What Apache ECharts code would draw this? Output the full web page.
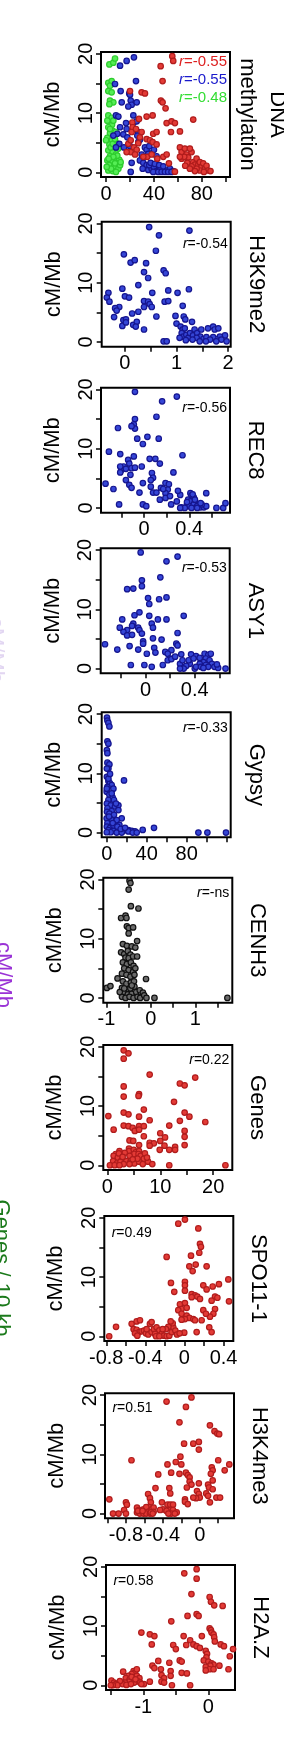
<!DOCTYPE html>
<html><head><meta charset="utf-8">
<script src="https://cdn.jsdelivr.net/npm/echarts@6/dist/echarts.min.js"></script>
<style>html,body{margin:0;padding:0;background:#fff}#c{width:284px;height:1738px}</style>
</head><body><div id="c"></div>
<script>
// ---------------- DATA ----------------
const dnaRed = [[55.3,19.6],[56.1,18.8],[45.6,17.9],[47.2,15.4],[20.0,13.7],[29.7,13.5],[32.5,13.3],[45.8,12.1],[47.2,11.8],[49.7,10.8],[33.9,9.4],[27.5,9.0],[21.9,8.4],[22.2,7.6],[38.9,9.6],[50.6,8.3],[54.7,8.6],[57.5,8.3],[54.2,6.8],[61.7,6.9],[72.8,8.9],[18.6,4.8],[20.6,5.4],[23.3,4.2],[25.6,3.8],[20.6,3.4],[17.2,3.4],[24.2,3.0],[21.4,6.8],[25.0,7.3],[33.9,5.6],[36.7,5.4],[39.4,6.5],[42.2,6.8],[38.9,5.1],[42.2,4.7],[29.7,6.8],[28.3,5.9],[34.4,2.6],[38.1,3.0],[42.8,2.3],[47.8,2.6],[50.6,3.0],[57.5,0.1],[52.5,1.5],[61.7,4.2],[63.1,3.4],[65.8,4.0],[67.2,3.0],[68.6,2.5],[71.4,3.4],[72.8,1.7],[74.2,1.3],[75.6,2.3],[76.9,1.2],[78.3,1.7],[79.7,0.9],[81.1,1.5],[82.5,0.6],[83.9,1.1],[85.3,0.3],[87.2,0.2],[78.3,0.3],[75.6,0.6],[71.4,1.0],[67.8,1.6],[63.1,2.3],[65.3,2.6],[61.7,2.6],[70.0,4.0],[81.7,0.05],[74.2,0.2],[70.0,0.6],[66.1,1.1],[31.1,2.6],[26.9,4.9]];
const dnaBlue = [[11.7,18.0],[17.2,18.8],[23.3,19.4],[25.0,15.4],[7.5,14.9],[12.2,13.7],[19.4,13.3],[20.0,13.1],[13.1,11.8],[20.6,12.1],[21.4,11.4],[25.6,11.8],[18.6,11.1],[8.3,9.6],[10.3,9.4],[16.7,8.3],[22.8,8.3],[25.6,8.6],[11.7,7.6],[17.2,7.3],[9.4,6.5],[6.1,6.2],[14.4,6.4],[17.8,5.9],[11.1,4.8],[8.3,4.2],[15.0,4.2],[20.0,4.4],[26.9,6.8],[26.1,6.2],[32.5,4.2],[33.9,3.8],[36.1,4.4],[38.1,3.2],[40.0,3.8],[42.2,2.7],[21.4,1.6],[20.6,0.05],[28.3,2.0],[31.1,1.6],[33.9,1.2],[30.6,0.6],[35.3,0.4],[38.1,0.6],[40.0,0.9],[42.2,0.2],[45.0,0.4],[47.8,0.2],[50.6,0.3],[53.3,0.6],[56.1,0.2],[39.4,0.05],[43.6,0.05],[46.4,0.05],[49.2,0.05],[51.9,0.05],[54.7,0.05],[36.1,1.2],[37.2,1.6],[40.8,1.4],[44.4,1.2],[47.8,1.0],[31.7,2.6],[29.7,3.0],[26.9,5.1],[28.3,5.5],[22.8,9.6],[35.3,3.1]];
const dnaGreen = [[2.8,18.2],[6.1,18.5],[7.5,19.2],[1.9,15.1],[4.7,15.4],[3.3,14.6],[1.9,13.7],[4.7,13.5],[3.3,12.1],[6.1,11.8],[2.8,11.5],[1.9,9.6],[4.7,9.2],[3.3,8.4],[5.0,8.0],[1.9,7.6],[5.6,7.0],[3.3,6.6],[7.5,6.2],[1.1,5.8],[5.0,5.4],[8.9,4.9],[2.8,4.7],[6.7,4.2],[10.3,4.0],[1.9,3.7],[5.6,3.4],[8.3,3.0],[3.3,2.7],[7.5,2.5],[11.1,2.1],[1.1,2.0],[4.7,1.7],[8.9,1.5],[2.8,1.2],[6.7,0.9],[10.3,0.6],[1.9,0.3],[5.6,0.2],[8.3,0.05],[4.2,0.6],[0.6,0.9],[7.5,1.5],[11.7,1.2],[3.9,4.2],[0.0,5.4],[8.1,6.8],[1.1,8.7],[9.4,2.8],[6.1,2.6],[2.2,2.3],[12.2,1.7],[5.6,4.8],[7.5,5.6],[3.3,7.3],[6.1,8.7]];
const h3k9me2 = [[0.47,19.4],[1.25,18.8],[0.66,18.0],[0.60,15.4],[-0.02,14.8],[0.11,13.4],[0.19,13.8],[0.41,13.3],[0.37,11.8],[0.45,10.8],[0.75,12.1],[0.79,11.6],[0.26,9.6],[-0.05,9.0],[1.24,8.9],[0.84,8.7],[1.02,8.3],[0.53,8.3],[-0.32,8.3],[-0.35,7.5],[-0.30,6.8],[0.00,7.7],[0.08,7.5],[0.37,6.9],[0.45,6.8],[0.48,6.4],[0.37,5.9],[0.52,5.9],[0.77,6.8],[0.84,6.9],[1.12,6.1],[-0.11,5.9],[-0.19,5.7],[-0.16,5.3],[0.14,4.8],[0.26,5.1],[-0.21,4.2],[0.61,4.3],[0.98,4.4],[1.14,4.3],[1.17,3.8],[-0.03,3.7],[0.02,3.8],[-0.05,2.7],[0.02,3.3],[0.16,2.9],[0.23,3.4],[0.21,2.6],[0.37,2.1],[1.30,3.4],[1.00,3.1],[1.08,2.6],[1.12,2.1],[1.16,2.3],[1.10,1.5],[1.13,0.9],[1.19,1.2],[1.23,0.7],[1.26,1.5],[1.32,1.1],[1.35,2.1],[1.40,1.5],[1.46,0.9],[1.52,0.5],[1.58,0.8],[1.48,2.1],[1.61,2.3],[1.71,2.6],[1.74,2.1],[1.81,2.3],[1.94,1.1],[1.84,0.9],[1.76,0.5],[1.71,0.8],[1.65,0.4],[1.87,0.4],[1.77,0.1],[1.97,0.1],[1.39,0.7],[1.31,0.4],[1.06,0.7],[1.18,0.3],[1.45,0.1],[1.57,0.1],[0.75,0.1],[0.81,0.1]];
const rec8 = [[-0.08,19.6],[0.29,18.8],[0.16,18.0],[0.11,15.4],[-0.08,15.0],[-0.09,14.1],[-0.08,13.4],[-0.23,13.5],[-0.11,13.8],[-0.06,11.7],[0.03,12.0],[0.13,11.7],[-0.01,10.8],[-0.31,9.5],[0.34,8.9],[-0.21,9.1],[-0.09,8.7],[0.05,8.3],[0.10,8.3],[0.14,7.5],[-0.14,8.1],[-0.13,7.5],[-0.18,7.0],[-0.20,6.4],[-0.21,6.0],[-0.16,6.6],[-0.11,6.7],[-0.08,6.8],[-0.02,7.0],[-0.21,7.0],[0.26,6.0],[0.07,5.9],[0.08,5.1],[0.06,4.7],[-0.12,5.6],[-0.16,4.7],[-0.13,3.9],[-0.11,3.4],[-0.34,4.1],[-0.27,3.2],[-0.01,4.2],[-0.04,2.6],[0.06,3.6],[0.08,2.6],[0.11,2.6],[0.15,3.4],[0.19,4.2],[0.22,4.0],[0.21,3.1],[0.19,2.5],[0.17,3.2],[0.14,1.4],[0.19,1.7],[0.23,2.0],[0.24,0.6],[0.29,1.1],[0.32,2.2],[0.30,2.9],[-0.22,0.6],[-0.01,0.6],[0.02,0.3],[0.41,2.5],[0.42,2.1],[0.44,1.8],[0.39,1.4],[0.41,1.1],[0.45,1.0],[0.38,0.6],[0.40,0.3],[0.44,0.6],[0.47,0.3],[0.50,0.1],[0.33,0.1],[0.36,0.0],[0.42,0.0],[0.47,0.0],[0.53,0.1],[0.55,0.3],[0.51,0.6],[0.32,0.0],[0.45,1.4],[0.43,2.3],[0.50,0.8],[0.38,1.0],[0.64,0.0],[0.70,0.0],[0.72,0.8],[0.55,2.5]];
const asy1 = [[-0.04,19.6],[0.26,18.9],[0.17,18.1],[0.12,15.4],[-0.03,14.9],[-0.03,13.9],[-0.15,13.4],[-0.10,13.5],[0.02,11.9],[0.03,10.9],[0.11,11.7],[0.17,12.0],[0.31,8.9],[0.03,8.9],[0.10,8.3],[0.17,8.3],[-0.19,8.3],[-0.09,9.0],[-0.05,9.5],[-0.10,7.6],[-0.11,7.2],[-0.15,6.5],[-0.18,6.2],[-0.15,5.6],[-0.11,5.7],[-0.21,6.9],[-0.06,6.9],[-0.05,6.5],[-0.03,5.9],[0.05,7.6],[0.06,6.9],[0.06,5.1],[0.13,4.9],[-0.02,4.6],[-0.02,4.2],[-0.06,3.2],[-0.13,3.8],[-0.23,3.2],[-0.33,4.1],[0.07,3.5],[0.08,2.7],[0.01,2.5],[0.26,6.0],[0.25,4.2],[0.26,3.9],[0.21,3.1],[0.16,2.8],[0.18,2.5],[0.20,1.7],[0.18,1.4],[0.21,1.6],[0.24,2.0],[0.29,2.4],[-0.12,0.6],[-0.01,0.6],[0.05,0.3],[0.14,0.6],[0.37,2.4],[0.41,2.1],[0.48,2.5],[0.51,2.3],[0.53,2.5],[0.49,1.7],[0.52,1.4],[0.47,1.1],[0.44,0.8],[0.36,0.8],[0.33,0.45],[0.29,0.3],[0.31,0.0],[0.40,0.0],[0.41,0.3],[0.45,0.3],[0.49,0.6],[0.54,0.8],[0.56,0.3],[0.59,0.1],[0.35,1.4],[0.39,1.7],[0.44,1.8],[0.51,0.3],[0.47,0.1],[0.58,0.7],[0.28,0.8],[0.30,1.4],[0.28,0.0],[0.65,0.0]];
const gypsy = [[0.3,19.4],[0.7,18.9],[1.7,18.5],[2.7,17.9],[0.7,15.4],[1.7,15.0],[0.2,13.9],[0.7,13.4],[0.7,11.8],[2.7,11.5],[1.7,10.8],[17.3,8.8],[0.2,9.4],[1.7,8.7],[3.3,8.3],[5.0,8.0],[0.7,7.7],[6.7,7.4],[0.0,6.9],[2.7,6.4],[6.0,5.9],[1.7,5.5],[0.2,4.9],[4.0,4.6],[8.3,4.4],[0.7,4.1],[5.0,3.6],[0.3,3.5],[2.7,3.2],[7.3,3.0],[11.7,4.6],[11.7,3.8],[0.0,2.4],[5.0,2.1],[9.3,1.8],[0.7,1.6],[15.0,2.4],[0.2,1.0],[3.3,0.8],[8.3,0.6],[12.7,1.3],[1.7,0.4],[6.7,0.3],[11.7,0.3],[16.7,0.3],[21.7,0.4],[25.0,0.3],[28.3,0.2],[21.7,0.2],[26.0,0.0],[30.0,0.0],[36.0,0.45],[47.3,0.8],[91.7,0.0],[100.7,0.0],[119.3,0.0],[0.1,7.4],[10.0,2.1],[6.7,1.2],[4.0,0.05],[0.1,0.05],[10.0,0.0],[15.0,0.0],[1.7,9.1],[3.3,9.9],[5.0,6.6],[7.3,5.5],[9.3,4.9],[2.3,2.7],[6.0,1.6],[10.7,1.0],[14.0,0.6],[18.3,0.8],[0.2,10.8]];
const cenh3 = [[-0.48,19.8],[-0.46,19.4],[-0.50,18.3],[-0.45,15.5],[-0.28,15.1],[-0.67,13.5],[-0.57,13.9],[-0.55,13.5],[-0.54,12.1],[-0.50,11.8],[-0.40,11.9],[-0.50,10.9],[-0.31,9.6],[-0.63,9.1],[-0.54,8.8],[-0.43,8.7],[-0.35,8.5],[-0.67,7.7],[-0.60,7.4],[-0.52,7.9],[-0.46,7.3],[-0.57,6.8],[-0.50,6.7],[-0.40,7.0],[-0.31,7.0],[-0.63,6.0],[-0.54,5.7],[-0.45,6.0],[-0.39,5.4],[-0.60,5.0],[-0.50,4.7],[-0.40,4.4],[-0.35,5.0],[-0.65,4.1],[-0.55,3.9],[-0.46,3.6],[-0.37,3.9],[-0.75,3.3],[-0.11,3.2],[-0.99,1.7],[-0.91,2.0],[-0.63,2.8],[-0.55,2.4],[-0.45,2.6],[-0.38,2.8],[-0.65,1.7],[-0.55,1.3],[-0.46,1.6],[-0.37,1.9],[-0.61,0.9],[-0.52,0.6],[-0.43,0.7],[-0.33,1.0],[-0.25,1.3],[-0.18,0.9],[-0.65,0.2],[-0.57,0.0],[-0.48,0.2],[-0.39,0.0],[-0.30,0.2],[-0.24,0.0],[-0.15,0.45],[-0.10,0.0],[-0.43,2.1],[-0.70,1.0],[-0.60,1.6],[0.08,0.0],[1.72,0.0]];
const genes = [[3.1,19.4],[4.0,18.9],[3.1,18.0],[8.0,15.3],[16.6,14.8],[13.7,13.8],[14.6,13.5],[3.1,13.3],[3.1,11.6],[6.0,12.0],[5.9,11.7],[12.6,10.7],[6.9,9.4],[3.1,8.9],[4.0,8.6],[0.2,8.3],[14.6,8.9],[15.5,8.2],[6.0,8.2],[18.5,7.3],[8.0,7.6],[13.7,7.5],[11.7,6.7],[1.2,6.0],[3.1,6.7],[4.0,6.6],[4.8,6.3],[6.0,6.6],[6.9,6.6],[5.2,5.8],[6.0,6.0],[14.6,5.8],[14.6,4.8],[14.6,3.4],[10.0,5.4],[6.9,4.9],[10.9,4.7],[10.0,4.1],[4.2,4.2],[4.9,4.1],[8.0,3.8],[8.8,3.7],[8.0,3.3],[10.8,3.3],[6.0,3.4],[12.8,3.1],[12.8,2.6],[9.9,2.6],[11.7,2.6],[4.1,2.8],[4.1,2.4],[5.0,2.6],[5.4,2.2],[6.0,2.4],[5.1,1.9],[5.9,1.9],[6.3,1.6],[6.9,1.1],[4.2,1.6],[3.3,2.1],[2.3,2.4],[1.6,1.9],[1.2,1.6],[2.0,1.3],[2.8,1.0],[1.1,0.7],[1.8,0.3],[2.5,0.6],[3.6,0.7],[4.3,0.45],[5.1,0.3],[6.0,0.6],[6.7,0.2],[7.7,0.6],[8.5,0.2],[11.7,0.0],[3.1,0.2],[4.2,0.2],[0.5,0.0],[1.4,0.0],[2.3,0.0],[22.3,0.0],[5.7,1.1],[4.8,1.0],[7.1,2.0],[7.5,1.3],[2.2,2.0],[2.9,1.4]];
const spo11 = [[-0.063,19.0],[0.005,19.7],[0.142,18.2],[0.159,15.6],[0.169,15.1],[0.152,14.1],[-0.182,13.4],[0.067,13.6],[0.115,12.1],[0.050,11.8],[0.084,11.0],[0.227,11.8],[0.449,9.6],[0.353,8.8],[0.289,8.4],[-0.138,9.0],[0.005,9.2],[0.005,8.6],[0.193,8.6],[0.227,7.9],[-0.104,7.5],[0.005,7.7],[0.074,7.1],[0.108,6.9],[0.132,6.7],[0.074,6.6],[0.159,6.3],[0.313,6.7],[0.337,6.5],[0.278,6.0],[0.456,5.9],[-0.046,5.4],[0.005,5.6],[-0.029,4.6],[0.023,4.8],[0.313,4.6],[0.296,3.8],[0.261,3.3],[0.193,4.4],[0.220,3.8],[-0.063,4.4],[-0.029,3.8],[0.023,3.5],[0.050,3.1],[0.091,2.9],[0.108,2.7],[0.005,2.9],[-0.029,2.8],[0.176,2.7],[0.254,1.5],[0.278,0.7],[0.125,0.7],[-0.002,0.6],[-0.70,1.6],[-0.77,0.0],[-0.54,2.1],[-0.489,2.5],[-0.455,2.7],[-0.52,1.2],[-0.489,1.1],[-0.462,0.7],[-0.506,0.5],[-0.438,0.85],[-0.414,0.96],[-0.394,0.5],[-0.37,0.3],[-0.336,0.7],[-0.312,1.2],[-0.353,2.1],[-0.336,2.4],[-0.285,1.5],[-0.257,1.0],[-0.233,0.4],[-0.209,0.1],[-0.182,0.0],[-0.155,0.1],[-0.131,0.7],[-0.114,1.5],[-0.12,2.2],[-0.141,2.5],[-0.165,1.6],[-0.189,1.2],[-0.093,0.96],[-0.076,0.3],[-0.049,0.5],[-0.223,1.2],[-0.301,0.4],[-0.387,1.2],[-0.482,0.1],[-0.291,0.0],[-0.257,0.0]];
const h3k4me3 = [[-0.09,19.6],[-0.36,18.9],[-0.15,18.0],[-0.22,15.4],[0.11,14.9],[0.16,13.9],[0.19,13.5],[0.21,13.4],[-0.17,11.8],[-0.07,11.8],[-0.01,12.1],[-0.01,10.8],[-0.21,9.6],[-0.74,9.0],[0.20,9.0],[-0.26,8.7],[-0.35,8.3],[-0.20,8.3],[0.32,8.3],[0.27,7.3],[0.13,7.8],[0.14,7.3],[0.12,6.7],[-0.31,6.9],[-0.22,6.7],[-0.15,6.9],[-0.13,6.5],[-0.11,6.1],[-0.45,6.6],[-0.11,5.4],[-0.09,4.9],[-0.14,4.4],[-0.01,5.1],[0.09,4.9],[0.10,4.4],[0.14,4.1],[0.14,5.6],[-0.48,4.3],[-0.33,4.3],[-0.32,3.4],[-0.03,3.8],[-0.01,3.3],[0.00,2.7],[-0.04,2.6],[0.07,3.4],[0.09,3.0],[-0.07,2.7],[-0.16,2.4],[-0.16,2.0],[-0.13,1.6],[0.11,1.9],[0.18,2.7],[0.22,2.7],[-0.98,2.4],[-0.80,1.9],[-0.79,1.5],[-0.82,0.6],[-0.94,0.0],[-0.88,0.0],[-0.80,0.0],[-0.56,3.3],[-0.54,2.6],[-0.53,1.9],[-0.55,1.1],[-0.58,0.6],[-0.68,1.0],[-0.66,0.6],[-0.63,0.2],[-0.61,0.7],[-0.58,1.1],[-0.56,0.3],[-0.52,0.7],[-0.50,1.0],[-0.68,0.2],[-0.65,0.0],[-0.61,0.0],[-0.58,0.0],[-0.54,0.0],[-0.50,0.3],[-0.67,0.45],[-0.62,0.45],[-0.53,0.2],[-0.51,0.0],[-0.41,1.9],[-0.35,1.5],[-0.32,1.5],[-0.29,1.5],[-0.32,0.6],[-0.29,0.6],[-0.40,0.7],[-0.36,0.45],[-0.25,0.2],[-0.31,0.0],[-0.27,0.0],[-0.34,0.0],[-0.43,0.6]];
const h2az = [[-0.18,19.6],[-0.37,18.9],[-0.18,18.0],[-0.26,15.4],[0.02,14.9],[0.04,14.1],[0.09,13.5],[0.22,13.4],[-0.18,12.0],[-0.15,11.7],[-0.32,11.7],[-0.57,10.8],[-1.03,8.9],[-0.90,8.6],[-0.83,8.3],[-0.87,6.9],[0.02,9.6],[0.04,9.3],[0.05,8.9],[0.08,8.6],[0.09,8.1],[0.10,7.4],[-0.38,8.3],[-0.10,8.3],[-0.28,7.6],[-0.23,6.9],[-0.18,6.6],[-0.13,6.3],[-0.54,6.8],[-0.50,6.1],[-0.34,6.8],[-0.04,5.8],[-0.02,5.3],[-0.03,4.7],[-0.07,4.2],[0.00,4.0],[0.05,3.7],[0.08,3.5],[0.03,3.3],[-0.04,3.1],[0.02,2.7],[0.08,2.7],[-0.04,2.5],[0.19,6.9],[0.24,6.6],[0.38,6.1],[0.33,4.9],[0.31,2.7],[0.17,3.3],[-0.44,4.2],[-0.41,4.0],[-0.60,3.8],[-0.86,3.3],[-0.83,2.9],[-0.77,4.1],[-0.73,2.7],[-0.58,2.4],[-0.58,1.6],[-0.41,2.1],[-0.33,2.0],[-0.72,1.7],[-0.68,1.2],[-0.72,0.6],[-0.68,0.45],[-0.56,0.0],[-0.28,0.0],[-0.90,0.6],[-0.99,0.2],[-1.31,2.3],[-1.15,2.4],[-1.13,2.1],[-1.10,2.7],[-1.18,1.9],[-1.23,1.6],[-1.27,1.2],[-1.21,1.0],[-1.15,1.3],[-1.10,1.6],[-1.06,1.2],[-1.09,0.7],[-1.14,0.45],[-1.22,0.6],[-1.28,0.45],[-1.32,0.2],[-1.26,0.05],[-1.19,0.2],[-1.05,0.45],[-1.03,0.2],[-1.36,0.7],[-1.18,1.4],[-1.12,1.0],[-1.49,0.8],[-1.45,0.45],[-1.42,0.2],[-1.40,0.0],[-1.47,0.0],[-1.50,0.0]];

// tick positions and labels
const yTicks = [0,5,10,15,20];
const yLabels = [0,10,20];
const xTicksList = [
  [0,20,40,60,80,100],
  [0,0.5,1,1.5,2],
  [-0.2,0,0.2,0.4,0.6],
  [-0.2,0,0.2,0.4,0.6],
  [0,20,40,60,80,100,120],
  [-1,-0.5,0,0.5,1,1.5],
  [0,5,10,15,20],
  [-0.8,-0.6,-0.4,-0.2,0,0.2,0.4],
  [-1,-0.8,-0.6,-0.4,-0.2,0,0.2],
  [-1.5,-1,-0.5,0]
];
const xLabelsList = [
  [0,40,80],[0,1,2],[0,0.4],[0,0.4],[0,40,80],[-1,0,1],[0,10,20],[-0.8,-0.4,0,0.4],[-0.8,-0.4,0],[-1,0]
];
const xRanges = [[-4.2,103.5],[-0.45,2.05],[-0.38,0.76],[-0.365,0.684],[-5,124],[-1.07,1.83],[-0.75,23.6],[-0.82,0.5],[-1.027,0.371],[-1.574,0.41]];
const titles = ['DNA\nmethylation','H3K9me2','REC8','ASY1','Gypsy','CENH3','Genes','SPO11-1','H3K4me3','H2A.Z'];
const rTexts = [['-0.55','-0.55','-0.48'],['-0.54'],['-0.56'],['-0.53'],['-0.33'],['-ns'],['0.22'],['0.49'],['0.51'],['0.58']];

// ---------------- STYLE / LAYOUT ----------------
const FONT = "'Liberation Sans', Arial, Helvetica, sans-serif";
const W = 129, H = 125;
const layout = [
  {l:101,t:52},{l:101.7,t:221.7},{l:101,t:387.7},{l:100.7,t:548.3},{l:101.7,t:712.3},
  {l:103.3,t:877.7},{l:103.3,t:1045},{l:104.3,t:1216},{l:105,t:1393.3},{l:106,t:1565}
];
const rOffsetY = [10,22,20.7,20,16,15.6,15,17,15,16];
const rLeft = [false,false,false,false,false,false,false,true,true,true];

const RED = {color:'#e33b36', borderColor:'#b01c1c'};
const BLUE = {color:'#3546d6', borderColor:'#15158f'};
const GREEN = {color:'#55ee55', borderColor:'#2ecc2e'};
const BLACK = {color:'#6a6a6a', borderColor:'#111111'};

const panelSeries = [
  [[dnaGreen,GREEN],[dnaBlue,BLUE],[dnaRed,RED]],
  [[h3k9me2,BLUE]],[[rec8,BLUE]],[[asy1,BLUE]],[[gypsy,BLUE]],
  [[cenh3,BLACK]],[[genes,RED]],[[spo11,RED]],[[h3k4me3,RED]],[[h2az,RED]]
];

const grids=[], xAxes=[], yAxes=[], series=[], graphics=[];
layout.forEach((p,i)=>{
  grids.push({left:p.l, top:p.t, width:W, height:H, show:true, borderColor:'#000', borderWidth:2, backgroundColor:'transparent', containLabel:false});
  xAxes.push({type:'value', gridIndex:i, min:xRanges[i][0], max:xRanges[i][1], position:'bottom',
    axisLine:{show:false, onZero:false}, splitLine:{show:false},
    axisTick:{show:true, length:5, lineStyle:{color:'#000', width:1.5}, customValues:xTicksList[i]},
    axisLabel:{customValues:xLabelsList[i], fontSize:20, color:'#000', fontFamily:FONT, margin:7, hideOverlap:false}
  });
  yAxes.push({type:'value', gridIndex:i, min:-0.8, max:20.3, position:'left',
    axisLine:{show:false, onZero:false}, splitLine:{show:false},
    axisTick:{show:true, length:5, lineStyle:{color:'#000', width:1.5}, customValues:yTicks},
    axisLabel:{customValues:yLabels, rotate:90, fontSize:20, color:'#000', fontFamily:FONT, margin:5}
  });
  panelSeries[i].forEach(([d,st])=>{
    series.push({type:'scatter', xAxisIndex:i, yAxisIndex:i, data:d, symbol:'circle', symbolSize:5.5,
      itemStyle:{color:st.color, borderColor:st.borderColor, borderWidth:1.2, opacity:1}, silent:true, animation:false});
  });
  // y axis title
  graphics.push({type:'text', x:p.l-48, y:p.t+H/2, rotation:Math.PI/2,
    style:{text:'cM/Mb', fontSize:22, fontFamily:FONT, fill:'#000', textAlign:'center', textVerticalAlign:'middle'}});
  // right title
  graphics.push({type:'text', x: i===0 ? 262 : p.l+W+25, y:p.t+H/2, rotation:-Math.PI/2,
    style:{text:titles[i], fontSize:22, fontFamily:FONT, fill:'#000', textAlign:'center', textVerticalAlign:'middle', lineHeight:30}});
  // r labels
  const cols = i===0 ? ['#dd2020','#1a1acc','#33dd33'] : ['#000'];
  rTexts[i].forEach((t,k)=>{
    graphics.push({type:'text', x: rLeft[i] ? p.l+7.4 : p.l+126, y:p.t+rOffsetY[i]+k*18,
      style:{text:'{i|r}{n|='+t+'}', textAlign: rLeft[i]?'left':'right', textVerticalAlign:'middle',
        rich:{i:{fontStyle:'italic', fontSize:i===0?15:14, fontFamily:FONT, fill:cols[k]}, n:{fontSize:i===0?15:14, fontFamily:FONT, fill:cols[k]}}}});
  });
});
// clipped fragments of neighbouring figure labels at the left edge
graphics.push({type:'text', x:-5, y:650, rotation:-Math.PI/2, style:{text:'cM/Mb', fontSize:22, fontFamily:FONT, fill:'#e2d6f2', textAlign:'center', textVerticalAlign:'middle'}});
graphics.push({type:'text', x:3, y:975, rotation:-Math.PI/2, style:{text:'cM/Mb', fontSize:22, fontFamily:FONT, fill:'#9a33d6', textAlign:'center', textVerticalAlign:'middle'}});
graphics.push({type:'text', x:1, y:1268, rotation:-Math.PI/2, style:{text:'Genes / 10 kb', fontSize:22, fontFamily:FONT, fill:'#1b7a1b', textAlign:'center', textVerticalAlign:'middle'}});

const chart = echarts.init(document.getElementById('c'), null, {renderer:'canvas', width:284, height:1738});
chart.setOption({animation:false, backgroundColor:'#fff', grid:grids, xAxis:xAxes, yAxis:yAxes, series:series, graphic:graphics});
</script></body></html>
